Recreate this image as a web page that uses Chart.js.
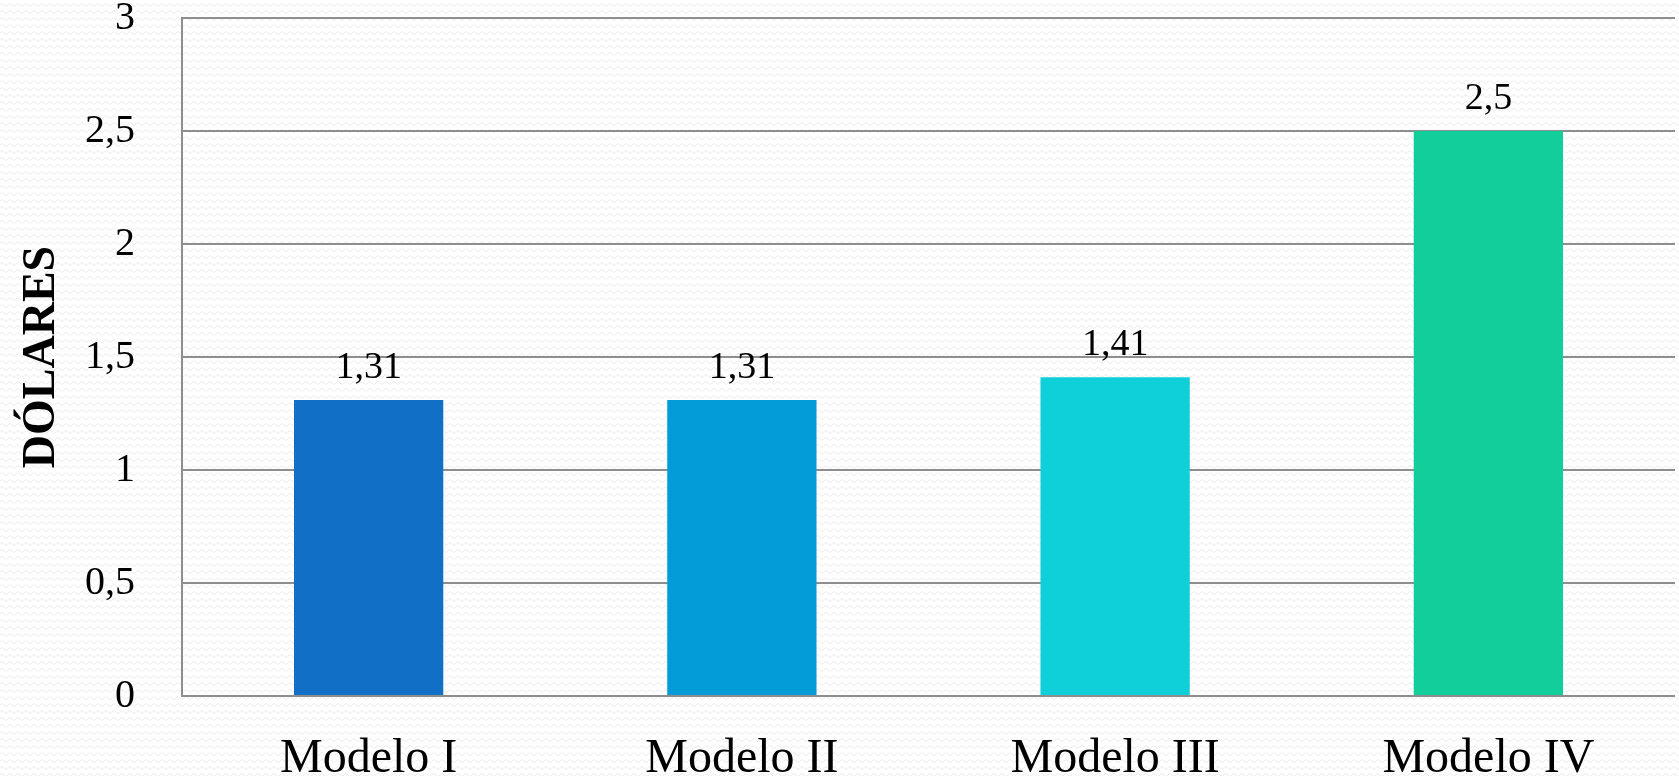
<!DOCTYPE html>
<html>
<head>
<meta charset="utf-8">
<script src="https://cdn.jsdelivr.net/npm/chart.js@4.4.1/dist/chart.umd.min.js"></script>
<style>
  html, body { margin: 0; padding: 0; }
  body {
    width: 1679px; height: 776px; overflow: hidden;
    background-color: #ffffff;
    background-image: url("data:image/svg+xml;utf8,<svg xmlns='http://www.w3.org/2000/svg' width='8' height='7'><path d='M0 5 Q2 2 4 5 T8 5' fill='none' stroke='%23ececec' stroke-width='1'/></svg>");
  }
  #wrap { position: absolute; left: 0; top: 0; width: 1679px; height: 776px; }
</style>
</head>
<body>
<div id="wrap"><canvas id="chart" width="1679" height="776"></canvas></div>
<script>
// Price per model, in dollars
const categories = ['Modelo I', 'Modelo II', 'Modelo III', 'Modelo IV'];
const values = [1.31, 1.31, 1.41, 2.5];
const barColors = ['#1170c5', '#039cd8', '#0fcfd9', '#12ce9a'];
const yTicks = [0, 0.5, 1, 1.5, 2, 2.5, 3];
const yTitle = 'DÓLARES';

const fmt = v => String(v).replace('.', ',');
const numFont = "'Liberation Serif', 'DejaVu Serif', serif";

// Value labels above each bar
const valueLabels = {
  id: 'valueLabels',
  afterDatasetsDraw(chart) {
    const ctx = chart.ctx;
    const meta = chart.getDatasetMeta(0);
    ctx.save();
    ctx.fillStyle = '#000';
    ctx.font = "38px " + numFont;
    ctx.textAlign = 'center';
    ctx.textBaseline = 'alphabetic';
    meta.data.forEach((bar, i) => {
      ctx.fillText(fmt(values[i]), bar.x, bar.y - 22);
    });
    ctx.restore();
  }
};

new Chart(document.getElementById('chart'), {
  type: 'bar',
  data: {
    labels: categories,
    datasets: [{
      data: values,
      backgroundColor: barColors,
      borderWidth: 0,
      barPercentage: 0.4,
      categoryPercentage: 1
    }]
  },
  options: {
    responsive: false,
    animation: false,
    devicePixelRatio: 1,
    layout: { padding: { left: 0, right: 4, top: 18, bottom: 0 } },
    plugins: {
      legend: { display: false },
      tooltip: { enabled: false }
    },
    scales: {
      x: {
        grid: { display: false, drawTicks: false },
        border: { display: false },
        ticks: {
          color: '#000',
          padding: 35,
          maxRotation: 0,
          autoSkip: false,
          font: { family: "'Liberation Serif', serif", size: 48 }
        },
        afterFit(scale) {
          scale.height = 80;
          scale.paddingLeft = 0;
          scale.paddingRight = 0;
        }
      },
      y: {
        min: 0,
        max: 3,
        afterBuildTicks(scale) { scale.ticks = yTicks.map(v => ({ value: v })); },
        grid: { color: '#8e8e8e', lineWidth: 2, drawTicks: false },
        border: { display: true, color: '#8e8e8e', width: 2 },
        ticks: {
          color: '#000',
          padding: 47,
          font: { family: numFont, size: 40 },
          callback: v => fmt(v)
        },
        title: {
          display: true,
          text: yTitle,
          color: '#000',
          padding: { top: 15, bottom: 0 },
          font: { family: "'Liberation Serif', serif", size: 46, weight: 'bold' }
        },
        afterFit(scale) {
          scale.width = 182;
          scale.paddingTop = 0;
          scale.paddingBottom = 0;
        }
      }
    }
  },
  plugins: [valueLabels]
});
</script>
</body>
</html>
